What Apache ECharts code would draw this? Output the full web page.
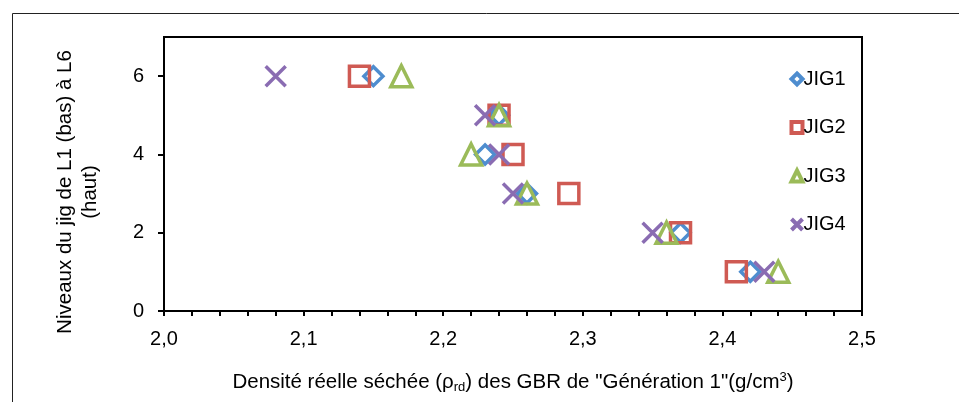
<!DOCTYPE html>
<html>
<head>
<meta charset="utf-8">
<script src="https://cdn.jsdelivr.net/npm/echarts@6/dist/echarts.min.js"></script>
<style>
  html, body { margin: 0; padding: 0; background: #fff; }
  #chart { width: 959px; height: 402px; }
</style>
</head>
<body>
<div id="chart"></div>
<script>
// niveaux du jig (L6 en haut ... L1 en bas)
const levels = [6, 5, 4, 3, 2, 1];
// densité réelle séchée par niveau
const jig1 = [2.15, 2.24, 2.23, 2.26, 2.37, 2.42];
const jig2 = [2.14, 2.24, 2.25, 2.29, 2.37, 2.41];
const jig3 = [2.17, 2.24, 2.22, 2.26, 2.36, 2.44];
const jig4 = [2.08, 2.23, 2.24, 2.25, 2.35, 2.43];
const seriesNames = ['JIG1', 'JIG2', 'JIG3', 'JIG4'];

const FONT = '"Liberation Sans", Arial, sans-serif';
const crossPath = 'path://M0,0L10,10M10,0L0,10';

function pairs(xs) {
  return xs.map((x, i) => [x, levels[i]]);
}

function serie(name, values, symbol, size, color) {
  return {
    name: name,
    type: 'scatter',
    symbol: symbol,
    symbolSize: size,
    data: pairs(values),
    itemStyle: {
      color: 'none',
      borderColor: color,
      borderWidth: 3.5,
      opacity: 1,
    },
    emphasis: { disabled: true },
  };
}

const chart = echarts.init(document.getElementById('chart'));
const option = {
  animation: false,
  textStyle: { fontFamily: FONT },
  grid: {
    left: 164,
    right: 97,
    top: 37,
    bottom: 91,
    show: true,
    borderColor: '#000',
    borderWidth: 2,
    backgroundColor: 'transparent',
  },
  legend: {
    orient: 'vertical',
    left: 784,
    top: 64,
    itemGap: 28.5,
    itemWidth: 11,
    itemHeight: 11,
    itemStyle: { borderWidth: 4 },
    textStyle: { fontFamily: FONT, fontSize: 20, color: '#000', padding: [0, 0, 0, -4] },
    data: seriesNames,
  },
  xAxis: {
    type: 'value',
    min: 2.0,
    max: 2.5,
    interval: 0.1,
    name: 'Densité réelle séchée (ρ{sub|rd}) des GBR de "Génération 1"(g/cm{sup|3})',
    nameLocation: 'middle',
    nameGap: 59,
    nameTextStyle: {
      fontFamily: FONT,
      fontSize: 20.5,
      color: '#000',
      rich: {
        sub: { fontFamily: FONT, fontSize: 13, color: '#000', padding: [11, 0, 0, 0] },
        sup: { fontFamily: FONT, fontSize: 13, color: '#000', padding: [0, 0, 9, 0] },
      },
    },
    axisLine: { show: true, onZero: false, lineStyle: { color: '#000', width: 2 } },
    axisTick: { show: true, inside: false, length: 5, lineStyle: { color: '#000', width: 2 } },
    minorTick: { show: true, splitNumber: 5, length: 5, lineStyle: { color: '#000', width: 2 } },
    axisLabel: {
      fontFamily: FONT,
      fontSize: 20,
      color: '#000',
      margin: 18,
      formatter: (v) => v.toFixed(1).replace('.', ','),
    },
    splitLine: { show: false },
  },
  yAxis: {
    type: 'value',
    min: 0,
    max: 7,
    interval: 2,
    axisLine: { show: true, onZero: false, lineStyle: { color: '#000', width: 2 } },
    axisTick: { show: true, inside: false, length: 6, lineStyle: { color: '#000', width: 2 } },
    axisLabel: {
      fontFamily: FONT,
      fontSize: 20,
      color: '#000',
      margin: 20,
      showMaxLabel: false,
    },
    splitLine: { show: false },
  },
  graphic: [
    {
      type: 'rect',
      left: 10,
      top: 11,
      shape: { width: 960, height: 400 },
      style: { fill: 'none', stroke: '#222', lineWidth: 1 },
      silent: true,
    },
    {
      type: 'text',
      x: 78,
      y: 192,
      rotation: Math.PI / 2,
      style: {
        text: 'Niveaux du jig de L1 (bas) à L6\n(haut)',
        font: '20.5px ' + FONT,
        fill: '#000',
        align: 'center',
        verticalAlign: 'middle',
        lineHeight: 25,
      },
      silent: true,
    },
  ],
  series: [
    serie('JIG1', jig1, 'diamond', 19, '#4E8DCF'),
    serie('JIG2', jig2, 'rect', 20, '#CF5A53'),
    serie('JIG3', jig3, 'triangle', 21, '#9BBB59'),
    serie('JIG4', jig4, crossPath, 20, '#8A6CB2'),
  ],
};
chart.setOption(option);
</script>
</body>
</html>
